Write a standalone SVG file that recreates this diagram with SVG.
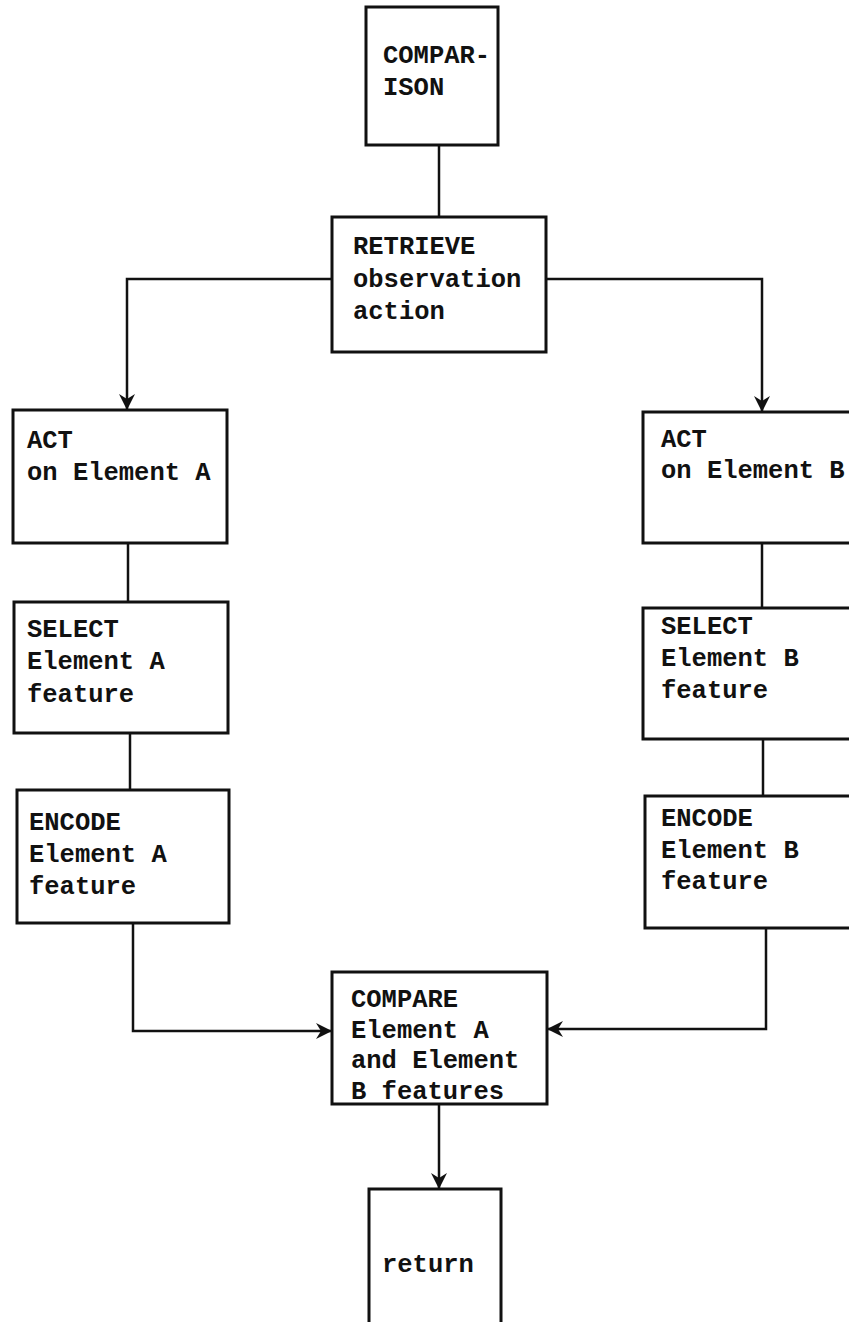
<svg xmlns="http://www.w3.org/2000/svg" width="849" height="1322" viewBox="0 0 849 1322">
  <defs>
    <marker id="arrow" viewBox="0 0 16 20" refX="16" refY="10" markerWidth="16" markerHeight="20" markerUnits="userSpaceOnUse" orient="auto">
      <path d="M0,2 L16,10 L0,18 L5,10 Z" fill="#111"/>
    </marker>
  </defs>
  <style>
    .box { fill: #fff; stroke: #111; stroke-width: 3; }
    .line { fill: none; stroke: #111; stroke-width: 2.5; }
    text { font-family: "Liberation Mono", "Courier New", monospace; font-size: 25.5px; font-weight: bold; fill: #111; }
  </style>
  <rect width="849" height="1322" fill="#fff"/>

  <g id="connectors">
    <path class="line" d="M439,145 L439,217"/>
    <path class="line" d="M332,279 L127,279 L127,410" marker-end="url(#arrow)"/>
    <path class="line" d="M546,279 L762,279 L762,412" marker-end="url(#arrow)"/>
    <path class="line" d="M128,543 L128,602"/>
    <path class="line" d="M130,733 L130,790"/>
    <path class="line" d="M762,543 L762,608"/>
    <path class="line" d="M763,739 L763,796"/>
    <path class="line" d="M133,923 L133,1031 L332,1031" marker-end="url(#arrow)"/>
    <path class="line" d="M766,928 L766,1029 L547,1029" marker-end="url(#arrow)"/>
    <path class="line" d="M439,1104 L439,1189" marker-end="url(#arrow)"/>
  </g>

  <g id="comparison">
    <rect class="box" x="366" y="7" width="132" height="138"/>
    <text x="383" y="63">COMPAR-</text>
    <text x="383" y="95">ISON</text>
  </g>

  <g id="retrieve">
    <rect class="box" x="332" y="217" width="214" height="135"/>
    <text x="353" y="254">RETRIEVE</text>
    <text x="353" y="287">observation</text>
    <text x="353" y="319">action</text>
  </g>

  <g id="act-a">
    <rect class="box" x="13" y="410" width="214" height="133"/>
    <text x="27" y="448">ACT</text>
    <text x="27" y="480">on Element A</text>
  </g>

  <g id="select-a">
    <rect class="box" x="14" y="602" width="214" height="131"/>
    <text x="27" y="637">SELECT</text>
    <text x="27" y="669">Element A</text>
    <text x="27" y="702">feature</text>
  </g>

  <g id="encode-a">
    <rect class="box" x="17" y="790" width="212" height="133"/>
    <text x="29" y="830">ENCODE</text>
    <text x="29" y="862">Element A</text>
    <text x="29" y="894">feature</text>
  </g>

  <g id="act-b">
    <rect class="box" x="643" y="412" width="220" height="131"/>
    <text x="661" y="447">ACT</text>
    <text x="661" y="478">on Element B</text>
  </g>

  <g id="select-b">
    <rect class="box" x="643" y="608" width="220" height="131"/>
    <text x="661" y="634">SELECT</text>
    <text x="661" y="666">Element B</text>
    <text x="661" y="698">feature</text>
  </g>

  <g id="encode-b">
    <rect class="box" x="645" y="796" width="220" height="132"/>
    <text x="661" y="826">ENCODE</text>
    <text x="661" y="858">Element B</text>
    <text x="661" y="889">feature</text>
  </g>

  <g id="compare">
    <rect class="box" x="332" y="972" width="215" height="132"/>
    <text x="351" y="1007">COMPARE</text>
    <text x="351" y="1038">Element A</text>
    <text x="351" y="1068">and Element</text>
    <text x="351" y="1099">B features</text>
  </g>

  <g id="return">
    <rect class="box" x="369" y="1189" width="132" height="145"/>
    <text x="382" y="1272">return</text>
  </g>
</svg>
